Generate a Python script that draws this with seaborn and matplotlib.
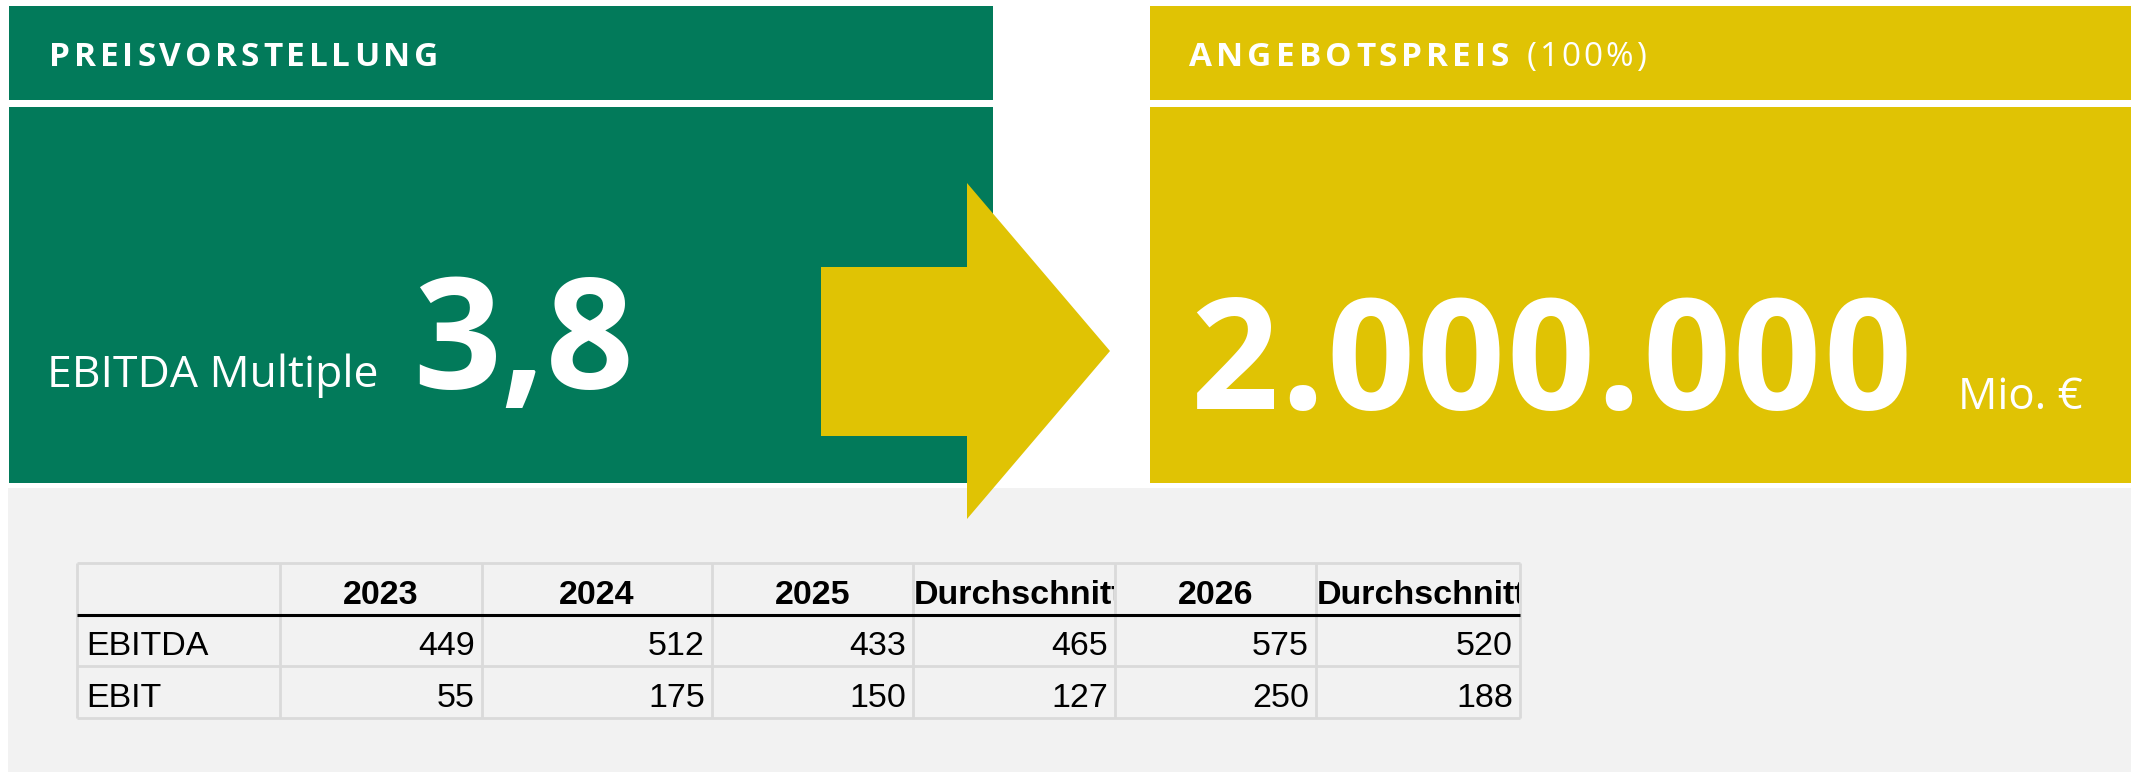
import matplotlib
matplotlib.use("Agg")
import numpy as np
import pandas as pd
import seaborn as sns
import matplotlib.pyplot as plt
from matplotlib.patches import Rectangle, Polygon
from matplotlib.transforms import Bbox
from matplotlib import font_manager

# ---------------- data ----------------
table_columns = ["2023", "2024", "2025", "Durchschnitt", "2026", "Durchschnitt"]
row_labels = ["EBITDA", "EBIT"]
ebitda_values = [449, 512, 433, 465, 575, 520]
ebit_values = [55, 175, 150, 127, 250, 188]
ebitda_multiple = 3.8
offer_price = 2000000
left_title = "PREISVORSTELLUNG"
right_title = "ANGEBOTSPREIS"
right_title_suffix = "(100%)"
multiple_label = "EBITDA Multiple"
price_unit = "Mio. €"

# ---------------- style ----------------
GREEN = "#027A5A"
YELLOW = "#E0C304"
GRAY_BG = "#F2F2F2"
GRID = "#DADADA"

sns.set_theme(style="white")
names = {f.name for f in font_manager.fontManager.ttflist}
NARROW = "Liberation Sans Narrow" in names
TABLE_FONT = "Liberation Sans Narrow" if NARROW else "Liberation Sans"
TABLE_SIZE = 27 if NARROW else 24.5
BOX_FONT = "Open Sans"
plt.rcParams["font.family"] = [BOX_FONT, "DejaVu Sans"]

W, H = 2131, 772
fig = plt.figure(figsize=(W / 100, H / 100), dpi=100)
fig.patch.set_facecolor("white")
ax = fig.add_axes([0, 0, 1, 1])
ax.set_xlim(0, W)
ax.set_ylim(H, 0)
ax.axis("off")
renderer = fig.canvas.get_renderer()

# ---------------- panels ----------------
ax.add_patch(Rectangle((8, 488), W - 8, H - 488, color=GRAY_BG, lw=0))
ax.add_patch(Rectangle((9, 6), 984, 94, color=GREEN, lw=0))
ax.add_patch(Rectangle((9, 107), 984, 376, color=GREEN, lw=0))
ax.add_patch(Rectangle((1150, 6), W - 1150, 94, color=YELLOW, lw=0))
ax.add_patch(Rectangle((1150, 107), W - 1150, 376, color=YELLOW, lw=0))
ax.add_patch(Polygon([(821, 267), (967, 267), (967, 183), (1110, 351),
                      (967, 519), (967, 436), (821, 436)],
                     closed=True, color=YELLOW, lw=0, zorder=3))


def text_width(s, **kw):
    if not s:
        return 0.0
    t = ax.text(0, 0, s, **kw)
    w = t.get_window_extent(renderer).width
    t.remove()
    return w


def fit_text(x, y, s, width, **kw):
    natural = text_width(s, **kw)
    n = len(s)
    spacing = (width - natural) / (n - 1) if n > 1 else 0
    for i, ch in enumerate(s):
        if ch == " ":
            continue
        xi = x + text_width(s[:i].rstrip(), **kw) + i * spacing
        if i > 0 and s[i - 1] == " ":
            xi = x + text_width(s[:i - 1], **kw) + text_width("n", **kw) * 0.5 + i * spacing
        ax.text(xi, y, ch, ha="left", va="baseline", zorder=5, **kw)


hdr = dict(color="white", fontsize=24, fontweight="bold", family=[BOX_FONT, "DejaVu Sans"])
fit_text(49, 66, left_title, 389, **hdr)
fit_text(1189, 66, right_title, 320, **hdr)
fit_text(1527, 66, right_title_suffix, 119, color="white", fontsize=24,
         fontweight="normal", family=[BOX_FONT, "DejaVu Sans"])

ax.text(47, 387, multiple_label, color="white", fontsize=32, ha="left", va="baseline",
        family=[BOX_FONT, "DejaVu Sans"], zorder=5)
multiple_str = f"{ebitda_multiple:.1f}".replace(".", ",")
ax.text(413, 388, multiple_str, color="white", fontsize=111, fontweight="bold",
        ha="left", va="baseline", family=[BOX_FONT, "DejaVu Sans"], zorder=5)

price_str = f"{offer_price:,}".replace(",", ".")
fit_text(1190, 409, price_str, 721, color="white", fontsize=111, fontweight="bold",
         family=[BOX_FONT, "DejaVu Sans"])
ax.text(1958, 409, price_unit, color="white", fontsize=31.5, ha="left", va="baseline",
        family=[BOX_FONT, "DejaVu Sans"], zorder=5)

# ---------------- table ----------------
col_edges = [77, 280, 482, 712, 913, 1115, 1316, 1520]
row_edges = [563, 615, 666, 718]
lw = 2.0

for xe in col_edges:
    ax.plot([xe, xe], [row_edges[0], row_edges[-1]], color=GRID, lw=lw,
            solid_capstyle="butt", zorder=2)
for ye in [row_edges[0], row_edges[2], row_edges[3]]:
    ax.plot([col_edges[0], col_edges[-1]], [ye, ye], color=GRID, lw=lw,
            solid_capstyle="butt", zorder=2)
ax.plot([col_edges[0], col_edges[-1]], [row_edges[1], row_edges[1]], color="black",
        lw=2.2, solid_capstyle="butt", zorder=3)

tfont = dict(family=[TABLE_FONT, "DejaVu Sans"], fontsize=TABLE_SIZE, color="black")
header_base = 604
for j, col in enumerate(table_columns):
    x0, x1 = col_edges[j + 1], col_edges[j + 2]
    w = text_width(col, fontweight="bold", **tfont)
    if w > (x1 - x0) - 4:
        t = ax.text(x0 + 1, header_base, col, ha="left", va="baseline",
                    fontweight="bold", zorder=4, **tfont)
        p0 = ax.transData.transform((x0 + 1, row_edges[0]))
        p1 = ax.transData.transform((x1 - 1, row_edges[1]))
        t.set_clip_box(Bbox.from_extents(min(p0[0], p1[0]), min(p0[1], p1[1]),
                                         max(p0[0], p1[0]), max(p0[1], p1[1])))
        t.set_clip_on(True)
    else:
        ax.text((x0 + x1) / 2, header_base, col, ha="center", va="baseline",
                fontweight="bold", zorder=4, **tfont)

body = pd.DataFrame([ebitda_values, ebit_values], index=row_labels, columns=range(6))
row_bases = [655, 707]
for i, label in enumerate(body.index):
    ax.text(col_edges[0] + 9, row_bases[i], label, ha="left", va="baseline", zorder=4, **tfont)
    for j in range(body.shape[1]):
        ax.text(col_edges[j + 2] - 7, row_bases[i], str(body.iloc[i, j]), ha="right",
                va="baseline", zorder=4, **tfont)

fig.savefig("out.png", dpi=100, facecolor="white")
